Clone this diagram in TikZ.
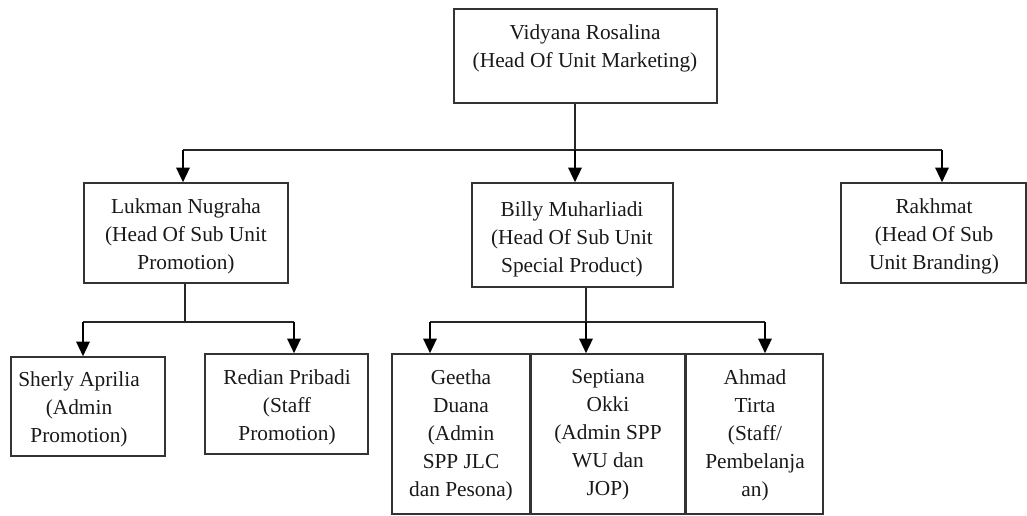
\documentclass[tikz,border=0pt]{standalone}
\usepackage{fontspec}
\setmainfont{Liberation Serif}
\usetikzlibrary{arrows.meta}
\begin{document}
\begin{tikzpicture}[x=0.75pt,y=-0.75pt,
  box/.style={draw=black!80,line width=1.1pt,inner sep=0pt},
  lbl/.style={align=center,inner sep=0pt,font=\fontsize{16}{21}\selectfont,text=black!90},
  link/.style={draw=black!85,line width=1pt},
  arr/.style={draw=black,line width=1.6pt,-{Triangle[length=11pt,width=10pt]}}]
\useasboundingbox (0,0) rectangle (1027,516);
% boxes
\node[box,minimum width=263*0.75pt,minimum height=94*0.75pt] (top) at (585.5,56) {};
\node[box,minimum width=204*0.75pt,minimum height=100*0.75pt] (luk) at (186,233) {};
\node[box,minimum width=201*0.75pt,minimum height=104*0.75pt] (bil) at (572.5,235) {};
\node[box,minimum width=185*0.75pt,minimum height=100*0.75pt] (rak) at (933.5,233) {};
\node[box,minimum width=154*0.75pt,minimum height=99*0.75pt] (she) at (88,406.5) {};
\node[box,minimum width=163*0.75pt,minimum height=100*0.75pt] (red) at (286.5,404) {};
\node[box,minimum width=138*0.75pt,minimum height=160*0.75pt] (gee) at (461,434) {};
\node[box,minimum width=154*0.75pt,minimum height=160*0.75pt] (sep) at (608,434) {};
\node[box,minimum width=137*0.75pt,minimum height=160*0.75pt] (ahm) at (754.5,434) {};
% labels
\node[lbl] (topt) at (585,48) {Vidyana Rosalina\\(Head Of Unit Marketing)};
\node[lbl] (lukt) at (186,236) {Lukman Nugraha\\(Head Of Sub Unit\\Promotion)};
\node[lbl] (bilt) at (572,239) {Billy Muharliadi\\(Head Of Sub Unit\\Special Product)};
\node[lbl] (rakt) at (934,236) {Rakhmat\\(Head Of Sub\\Unit Branding)};
\node[lbl] (shet) at (79,409) {Sherly Aprilia\\(Admin\\Promotion)};
\node[lbl] (redt) at (287,407) {Redian Pribadi\\(Staff\\Promotion)};
\node[lbl] (geet) at (461,435) {Geetha\\Duana\\(Admin\\SPP JLC\\dan Pesona)};
\node[lbl] (sept) at (608,435) {Septiana\\Okki\\(Admin SPP\\WU dan\\JOP)};
\node[lbl] (ahmt) at (755,435) {Ahmad\\Tirta\\(Staff/\\Pembelanja\\an)};
% junctions
\coordinate (j0) at (575,150);
\coordinate (jl) at (183,150);
\coordinate (jr) at (942,150);
\coordinate (k0) at (185,322);
\coordinate (kl) at (83,322);
\coordinate (kr) at (294,322);
\coordinate (m0) at (586,322);
\coordinate (ml) at (430,322);
\coordinate (mr) at (765,322);
% connectors
\draw[link] (top.south -| j0) -- (j0);
\draw[link] (jl) -- (jr);
\draw[arr] (jl) -- (luk.north -| jl);
\draw[arr] (j0) -- (bil.north -| j0);
\draw[arr] (jr) -- (rak.north -| jr);
\draw[link] (luk.south -| k0) -- (k0);
\draw[link] (kl) -- (kr);
\draw[arr] (kl) -- (she.north -| kl);
\draw[arr] (kr) -- (red.north -| kr);
\draw[link] (bil.south -| m0) -- (m0);
\draw[link] (ml) -- (mr);
\draw[arr] (ml) -- (gee.north -| ml);
\draw[arr] (m0) -- (sep.north -| m0);
\draw[arr] (mr) -- (ahm.north -| mr);
\end{tikzpicture}
\end{document}
